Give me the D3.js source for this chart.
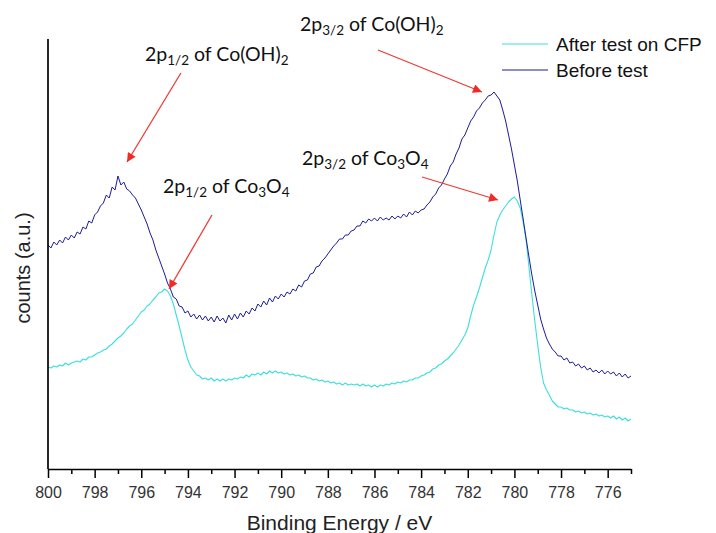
<!DOCTYPE html>
<html>
<head>
<meta charset="utf-8">
<script src="https://cdn.jsdelivr.net/npm/d3@7"></script>
<style>
  html, body { margin: 0; padding: 0; background: #fff; }
  svg { display: block; }
</style>
</head>
<body>
<svg id="chart" width="716" height="533"></svg>
<script>
// Co 2p XPS spectra, binding energy (eV) vs counts (a.u.), sampled every 0.125 eV
const energies = d3.range(800, 774.9, -0.125);

const countsBefore = [
  224, 221, 227, 224, 229, 226, 232, 229,
  234, 231, 237, 235, 242, 240, 248, 246,
  254, 257, 263, 266, 274, 271, 282, 279,
  293, 284, 287, 280, 278, 274, 271, 265,
  259, 252, 245, 236, 229, 219, 211, 203,
  195, 186, 180, 172, 170, 163, 162, 156,
  158, 152, 155, 150, 154, 149, 153, 148,
  152, 147, 153, 148, 151, 146, 154, 149,
  155, 150, 156, 152, 158, 155, 161, 158,
  165, 162, 168, 164, 171, 167, 173, 170,
  175, 172, 177, 175, 180, 178, 184, 182,
  188, 189, 195, 196, 202, 203, 208, 211,
  215, 219, 223, 226, 230, 230, 234, 234,
  238, 239, 243, 243, 248, 246, 250, 248,
  251, 248, 252, 249, 251, 249, 253, 250,
  253, 251, 255, 252, 257, 254, 258, 256,
  259, 260, 264, 267, 272, 275, 281, 284,
  290, 295, 303, 307, 315, 321, 330, 334,
  341, 348, 352, 358, 361, 366, 369, 373,
  374, 377, 373, 369, 359, 348, 334, 320,
  304, 288, 269, 250, 231, 212, 194, 178,
  164, 150, 140, 131, 125, 120, 117, 113,
  113, 109, 111, 106, 107, 103, 105, 101,
  103, 99, 101, 97, 99, 96, 99, 95,
  98, 95, 97, 93, 96, 92, 95, 91,
  93
];

const countsAfter = [
  102, 101, 103, 102, 104, 103, 106, 104,
  106, 107, 108, 107, 110, 109, 112, 112,
  114, 116, 117, 119, 120, 123, 125, 128,
  131, 133, 136, 140, 143, 145, 149, 153,
  157, 159, 163, 165, 169, 172, 176, 177,
  180, 178, 173, 165, 154, 143, 131, 119,
  109, 102, 98, 94, 93, 90, 91, 89,
  91, 88, 90, 88, 90, 88, 90, 89,
  91, 90, 92, 91, 94, 92, 95, 94,
  96, 94, 97, 95, 98, 96, 98, 96,
  97, 95, 96, 94, 95, 93, 94, 92,
  93, 91, 91, 89, 90, 88, 89, 87,
  88, 86, 87, 85, 86, 84, 86, 84,
  85, 84, 85, 83, 85, 83, 84, 82,
  84, 82, 84, 83, 85, 84, 86, 85,
  87, 86, 88, 87, 89, 89, 91, 91,
  93, 94, 96, 97, 100, 101, 104, 105,
  108, 110, 113, 116, 120, 124, 129, 134,
  141, 153, 164, 172, 181, 191, 201, 209,
  219, 234, 247, 254, 259, 263, 267, 270,
  272, 268, 261, 247, 229, 202, 174, 148,
  124, 102, 86, 79, 74, 68, 65, 62,
  62, 60, 61, 59, 59, 57, 58, 56,
  57, 55, 56, 54, 55, 53, 54, 52,
  53, 51, 53, 50, 52, 49, 51, 48,
  50
];

const seriesNames = ["After test on CFP", "Before test"];
const seriesColors = ["#3ddede", "#1c1c98"];

const xTicks = d3.range(800, 774.5, -1);
const xLabelText = "Binding Energy / eV";
const yLabelText = "counts (a.u.)";

// peak annotations: label parts, label anchor, arrow start and tip as (energy, counts)
const annotations = [
  { main: "2p", sub1: "1/2", rest: " of Co(OH)", sub2: "2", tail: "", lx: 145, ly: 61,
    from: [794.30, 396], to: [796.61, 307] },
  { main: "2p", sub1: "3/2", rest: " of Co(OH)", sub2: "2", tail: "", lx: 300, ly: 31,
    from: [785.85, 419], to: [781.39, 377] },
  { main: "2p", sub1: "1/2", rest: " of Co", sub2: "3", tail: "O", sub3: "4", lx: 163, ly: 193,
    from: [792.97, 254], to: [794.81, 180] },
  { main: "2p", sub1: "3/2", rest: " of Co", sub2: "3", tail: "O", sub3: "4", lx: 302, ly: 165,
    from: [783.96, 292], to: [780.70, 269] }
];

const svg = d3.select("#chart");
const margin = { left: 48, right: 85, top: 39, bottom: 64 };
const W = 716, H = 533;

const x = d3.scaleLinear().domain([800, 775]).range([margin.left, W - margin.right]);
const y = d3.scaleLinear().domain([0, 430]).range([H - margin.bottom, margin.top]);

const line = d3.line().x(d => x(d[0])).y(d => y(d[1]));

const dataAfter = energies.map((e, i) => [e, countsAfter[i]]);
const dataBefore = energies.map((e, i) => [e, countsBefore[i]]);

svg.append("path").datum(dataAfter).attr("d", line)
  .attr("fill", "none").attr("stroke", seriesColors[0]).attr("stroke-width", 1.1)
  .attr("stroke-linejoin", "round");
svg.append("path").datum(dataBefore).attr("d", line)
  .attr("fill", "none").attr("stroke", seriesColors[1]).attr("stroke-width", 1)
  .attr("stroke-linejoin", "round");

// axes
const xAxis = d3.axisBottom(x).tickValues(xTicks)
  .tickFormat(d => (d % 2 === 0 ? d : "")).tickSizeOuter(0);
const gx = svg.append("g").attr("transform", `translate(0,${y(0)})`).call(xAxis);
gx.select(".domain").attr("stroke", "#000").attr("stroke-width", 1.7);
gx.selectAll(".tick line").attr("stroke", "#000").attr("stroke-width", 1.5)
  .attr("y2", d => (d % 2 === 0 ? 9 : 5));
gx.selectAll(".tick text").attr("y", 29).attr("dy", null)
  .attr("font-family", "'Liberation Sans', Arial, sans-serif")
  .attr("font-size", 16).attr("fill", "#333");

svg.append("line")
  .attr("x1", x(800)).attr("x2", x(800))
  .attr("y1", y(0)).attr("y2", y(430))
  .attr("stroke", "#000").attr("stroke-width", 1.7);

svg.append("text")
  .attr("x", (x(800) + x(775)) / 2).attr("y", 530)
  .attr("text-anchor", "middle")
  .attr("font-family", "'Liberation Sans', Arial, sans-serif")
  .attr("font-size", 21).attr("fill", "#222")
  .text(xLabelText);

svg.append("text")
  .attr("transform", "translate(30,268) rotate(-90)")
  .attr("text-anchor", "middle")
  .attr("font-family", "'Liberation Sans', Arial, sans-serif")
  .attr("font-size", 20).attr("fill", "#222")
  .text(yLabelText);

// legend
const legend = svg.append("g");
seriesNames.forEach((name, i) => {
  const ly = 44 + i * 26;
  legend.append("line").attr("x1", 502).attr("x2", 548).attr("y1", ly).attr("y2", ly)
    .attr("stroke", seriesColors[i]).attr("stroke-width", 1.2);
  legend.append("text").attr("x", 556).attr("y", ly + 6.5)
    .attr("font-family", "'Liberation Sans', Arial, sans-serif")
    .attr("font-size", 19).attr("fill", "#111").text(name);
});

// arrows
const defs = svg.append("defs");
defs.append("marker").attr("id", "arrowhead")
  .attr("viewBox", "0 0 10 10").attr("refX", 10).attr("refY", 5)
  .attr("markerWidth", 11).attr("markerHeight", 9)
  .attr("markerUnits", "userSpaceOnUse")
  .attr("orient", "auto")
  .append("path").attr("d", "M0,0 L10,5 L0,10 Z").attr("fill", "#f02a24");

const ann = svg.append("g");
annotations.forEach(a => {
  ann.append("line")
    .attr("x1", x(a.from[0])).attr("y1", y(a.from[1]))
    .attr("x2", x(a.to[0])).attr("y2", y(a.to[1]))
    .attr("stroke", "#ee3a34").attr("stroke-width", 1.3)
    .attr("marker-end", "url(#arrowhead)");

  const t = ann.append("text").attr("x", a.lx).attr("y", a.ly)
    .attr("font-family", "Lato, 'Open Sans', sans-serif")
    .attr("font-size", 19.5).attr("fill", "#111");
  t.append("tspan").text(a.main);
  t.append("tspan").attr("font-size", 13.5).attr("dy", 4).text(a.sub1);
  t.append("tspan").attr("dy", -4).text(a.rest);
  t.append("tspan").attr("font-size", 13.5).attr("dy", 4).text(a.sub2);
  if (a.tail) {
    t.append("tspan").attr("dy", -4).text(a.tail);
    t.append("tspan").attr("font-size", 13.5).attr("dy", 4).text(a.sub3);
  }
});
</script>
</body>
</html>
